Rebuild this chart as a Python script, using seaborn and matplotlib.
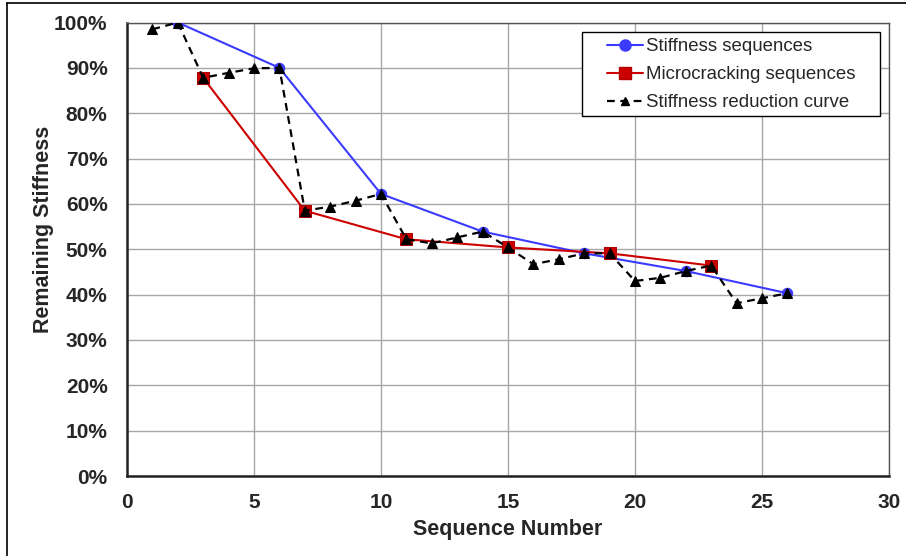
import matplotlib
matplotlib.use("Agg")
import matplotlib.pyplot as plt
import matplotlib.ticker as mticker
from matplotlib.lines import Line2D
from matplotlib.patches import Rectangle
import seaborn as sns
import pandas as pd

# Stiffness sequences (blue circles)
stiff_seq = [2, 6, 10, 14, 18, 22, 26]
stiff_val = [100.0, 90.0, 62.2, 53.9, 49.1, 45.2, 40.3]

# Microcracking sequences (red squares)
micro_seq = [3, 7, 11, 15, 19, 23]
micro_val = [87.8, 58.5, 52.2, 50.4, 49.1, 46.4]

# Stiffness reduction curve (black dashed, triangles)
curve_seq = list(range(1, 27))
curve_val = [98.5, 100.0, 87.8, 88.9, 89.9, 90.0, 58.5, 59.4, 60.7, 62.2,
             52.2, 51.3, 52.6, 53.9, 50.4, 46.7, 47.8, 49.1, 49.1, 43.0,
             43.7, 45.2, 46.4, 38.1, 39.2, 40.3]

labels = ["Stiffness sequences", "Microcracking sequences", "Stiffness reduction curve"]

sns.set_theme(style="white")
plt.rcParams["font.family"] = ["Liberation Sans", "DejaVu Sans"]

W, H = 906, 556
fig = plt.figure(figsize=(W / 100, H / 100), dpi=100)
ax_l, ax_t, ax_r, ax_b = 127, 22.5, 889, 476
ax = fig.add_axes([ax_l / W, 1 - ax_b / H, (ax_r - ax_l) / W, (ax_b - ax_t) / H])
aw, ah = ax_r - ax_l, ax_b - ax_t

blue = "#3B3BFF"
red = "#CC0000"
dash = (0, (3.5, 2.5))

df_s = pd.DataFrame({"x": stiff_seq, "y": stiff_val})
df_m = pd.DataFrame({"x": micro_seq, "y": micro_val})
df_c = pd.DataFrame({"x": curve_seq, "y": curve_val})

sns.lineplot(data=df_s, x="x", y="y", ax=ax, color=blue, lw=1.5, marker="o",
             markersize=7.5, markeredgecolor=blue, markerfacecolor=blue, sort=False, zorder=3)
sns.lineplot(data=df_m, x="x", y="y", ax=ax, color=red, lw=1.5, marker="s",
             markersize=8, markeredgecolor="#B00000", markerfacecolor=red, sort=False, zorder=4)
sns.lineplot(data=df_c, x="x", y="y", ax=ax, color="black", lw=1.6, marker="^",
             markersize=6.5, markeredgecolor="black", markerfacecolor="black",
             linestyle=dash, sort=False, zorder=5)

ax.set_xlim(0, 30)
ax.set_ylim(0, 100)
ax.xaxis.set_major_locator(mticker.MultipleLocator(5))
ax.yaxis.set_major_locator(mticker.MultipleLocator(10))
ax.yaxis.set_major_formatter(mticker.FuncFormatter(lambda v, p: f"{v:.0f}%"))
ax.grid(True, color="#A6A6A6", lw=1.0)
ax.set_axisbelow(True)

for side in ["top", "right"]:
    ax.spines[side].set_color("#555555")
    ax.spines[side].set_linewidth(1.0)
for side in ["left", "bottom"]:
    ax.spines[side].set_color("#222222")
    ax.spines[side].set_linewidth(1.8)

ax.tick_params(axis="both", length=0, labelsize=15)
for t in ax.get_xticklabels() + ax.get_yticklabels():
    t.set_fontweight("bold")
ax.tick_params(axis="y", pad=14)
ax.tick_params(axis="x", pad=12)

ax.set_xlabel("Sequence Number", fontsize=15.5, fontweight="bold", labelpad=5)
ax.set_ylabel("Remaining Stiffness", fontsize=15.5, fontweight="bold")
ax.yaxis.set_label_coords((54 - ax_l) / aw, (ax_b - 229) / ah)

# legend box
fx0, fy0, fx1, fy1 = 582, 31.7, 880, 116
ax.add_patch(Rectangle(((fx0 - ax_l) / aw, (ax_b - fy1) / ah), (fx1 - fx0) / aw, (fy1 - fy0) / ah,
                       transform=ax.transAxes, facecolor="white", edgecolor="black",
                       lw=1.0, zorder=6))

handles = [
    Line2D([], [], color=blue, lw=1.5, marker="o", markersize=8),
    Line2D([], [], color=red, lw=1.5, marker="s", markersize=8, markeredgecolor="#B00000"),
    Line2D([], [], color="black", lw=1.6, marker="^", markersize=6, linestyle=dash),
]
leg = ax.legend(handles, labels, loc="upper left",
                bbox_to_anchor=((607 - ax_l) / aw, (ax_b - 38) / ah),
                fontsize=13.4, frameon=False, handlelength=1.94, handletextpad=0.15,
                borderpad=0, labelspacing=0.6, borderaxespad=0)
leg.set_zorder(7)

# outer frame of the figure (top and left edges)
fig.add_artist(Line2D([7 / W, 7 / W], [0, 1 - 3 / H], color="black", lw=1.2,
                      transform=fig.transFigure))
fig.add_artist(Line2D([7 / W, 1], [1 - 3 / H, 1 - 3 / H], color="black", lw=1.2,
                      transform=fig.transFigure))

fig.savefig("out.png", dpi=100)
